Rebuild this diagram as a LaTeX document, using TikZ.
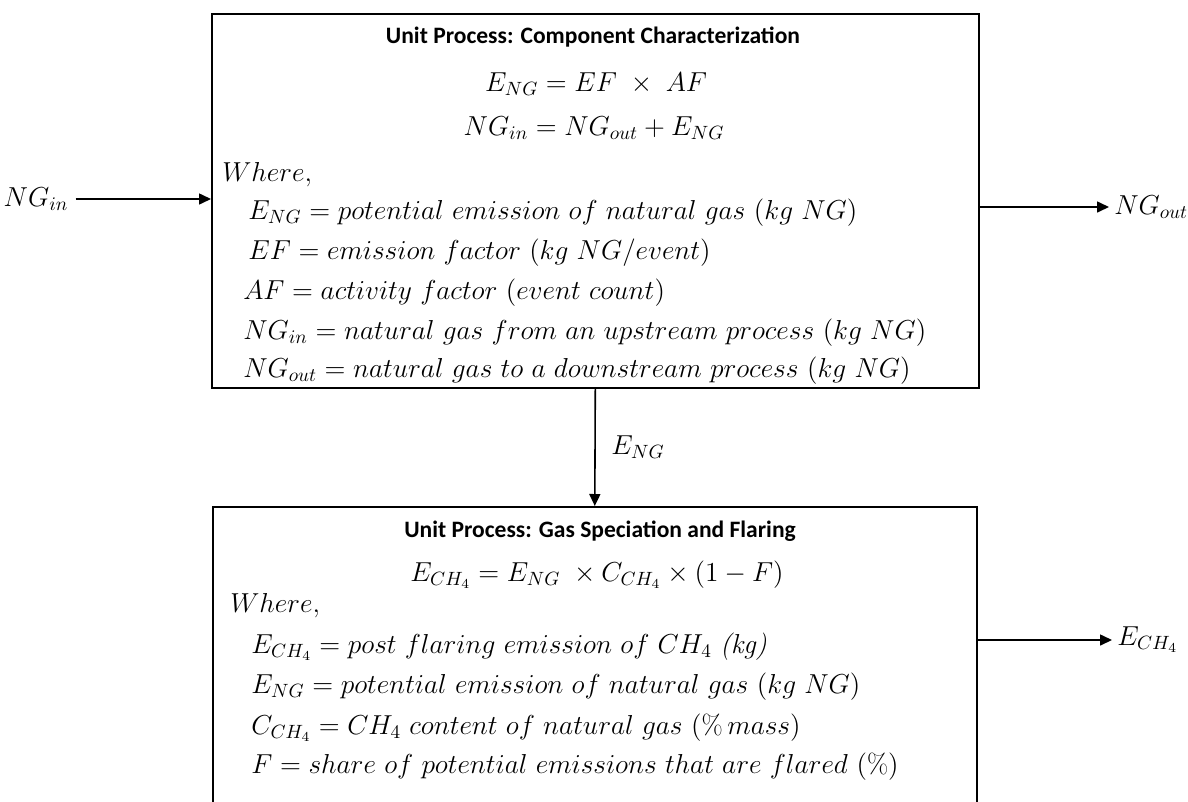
\RequirePackage{fix-cm}
\documentclass[tikz,border=0pt]{standalone}
\usepackage{fontspec}
\newfontfamily\titlefont{Carlito}
\usetikzlibrary{arrows.meta,positioning,calc}

\tikzset{
  procbox/.style={draw, line width=0.9pt, inner sep=0pt},
  flow/.style={line width=0.9pt, -{Triangle[length=2.4mm,width=2.2mm]}},
  boxtitle/.style={font=\titlefont\bfseries\fontsize{13.4}{15}\selectfont, inner sep=0pt},
  mathline/.style={font=\fontsize{15.6}{18}\selectfont, inner sep=0pt},
  defline/.style={mathline, anchor=west},
}

\begin{document}
\begin{tikzpicture}
  \useasboundingbox (0,0) rectangle (23.76,-16.02);
  \begin{scope}
    \clip (0,0) rectangle (23.76,-16.02);
    % component characterization
    \node[procbox, minimum width=15.34cm, minimum height=7.48cm, anchor=north west] (cc) at (4.22,-0.26) {};
    % gas speciation, runs past the lower edge
    \node[procbox, minimum width=15.28cm, minimum height=7cm, anchor=north west] (gs) at (4.24,-10.12) {};
  \end{scope}

  \node[boxtitle] (cctitle) at (11.86,-0.74) {Unit Process: Component Characterization};
  \node[mathline] (cceqa) at (11.92,-1.68) {$E_{NG} = EF\;\times\;AF$};
  \node[mathline] (cceqb) at (11.88,-2.56) {$NG_{in} = NG_{out} + E_{NG}$};
  \node[defline] (ccwhere) at (4.44,-3.5) {$Where,$};
  \node[defline] (ccdefa) at (4.96,-4.26) {$E_{NG} = potential\ emission\ of\ natural\ gas\ (kg\ NG)$};
  \node[defline] (ccdefb) at (4.96,-5.06) {$EF = emission\ factor\ (kg\ NG/event)$};
  \node[defline] (ccdefc) at (4.86,-5.86) {$AF = activity\ factor\ (event\ count)$};
  \node[defline] (ccdefd) at (4.86,-6.66) {$NG_{in} = natural\ gas\ from\ an\ upstream\ process\ (kg\ NG)$};
  \node[defline] (ccdefe) at (4.86,-7.42) {$NG_{out} = natural\ gas\ to\ a\ downstream\ process\ (kg\ NG)$};

  \node[boxtitle] (gstitle) at (12.0,-10.62) {Unit Process: Gas Speciation and Flaring};
  \node[mathline] (gseq) at (11.94,-11.5) {$E_{CH_4} = E_{NG}\;\times C_{CH_4}\times(1-F)$};
  \node[defline] (gswhere) at (4.6,-12.12) {$Where,$};
  \node[defline] (gsdefa) at (5.02,-12.94) {$E_{CH_4} = post\ flaring\ emission\ of\ CH_4$ \textit{(kg)}};
  \node[defline] (gsdefb) at (5.02,-13.74) {$E_{NG} = potential\ emission\ of\ natural\ gas\ (kg\ NG)$};
  \node[defline] (gsdefc) at (5.02,-14.56) {$C_{CH_4} = CH_4\ content\ of\ natural\ gas\ (\%\,mass)$};
  \node[defline] (gsdefd) at (5.02,-15.34) {$F = share\ of\ potential\ emissions\ that\ are\ flared\ (\%)$};

  % flows
  \node[mathline] (ngin) at (0.72,-3.98) {$NG_{in}$};
  \node[mathline, anchor=west] (ngout) at (22.28,-4.14) {$NG_{out}$};
  \node[mathline, anchor=west] (eng) at (12.22,-8.94) {$E_{NG}$};
  \node[mathline, anchor=west] (ech4) at (22.34,-12.8) {$E_{CH_4}$};

  \draw[flow] ([xshift=0.14cm]ngin.east) -- (cc.west |- ngin.east);
  \draw[flow] (cc.east |- ngout.west) -- ([xshift=-0.1cm]ngout.west);
  \draw[flow] (cc.south) -- (gs.north);
  \draw[flow] (gs.east |- ech4.west) -- ([xshift=-0.1cm]ech4.west);
\end{tikzpicture}
\end{document}
